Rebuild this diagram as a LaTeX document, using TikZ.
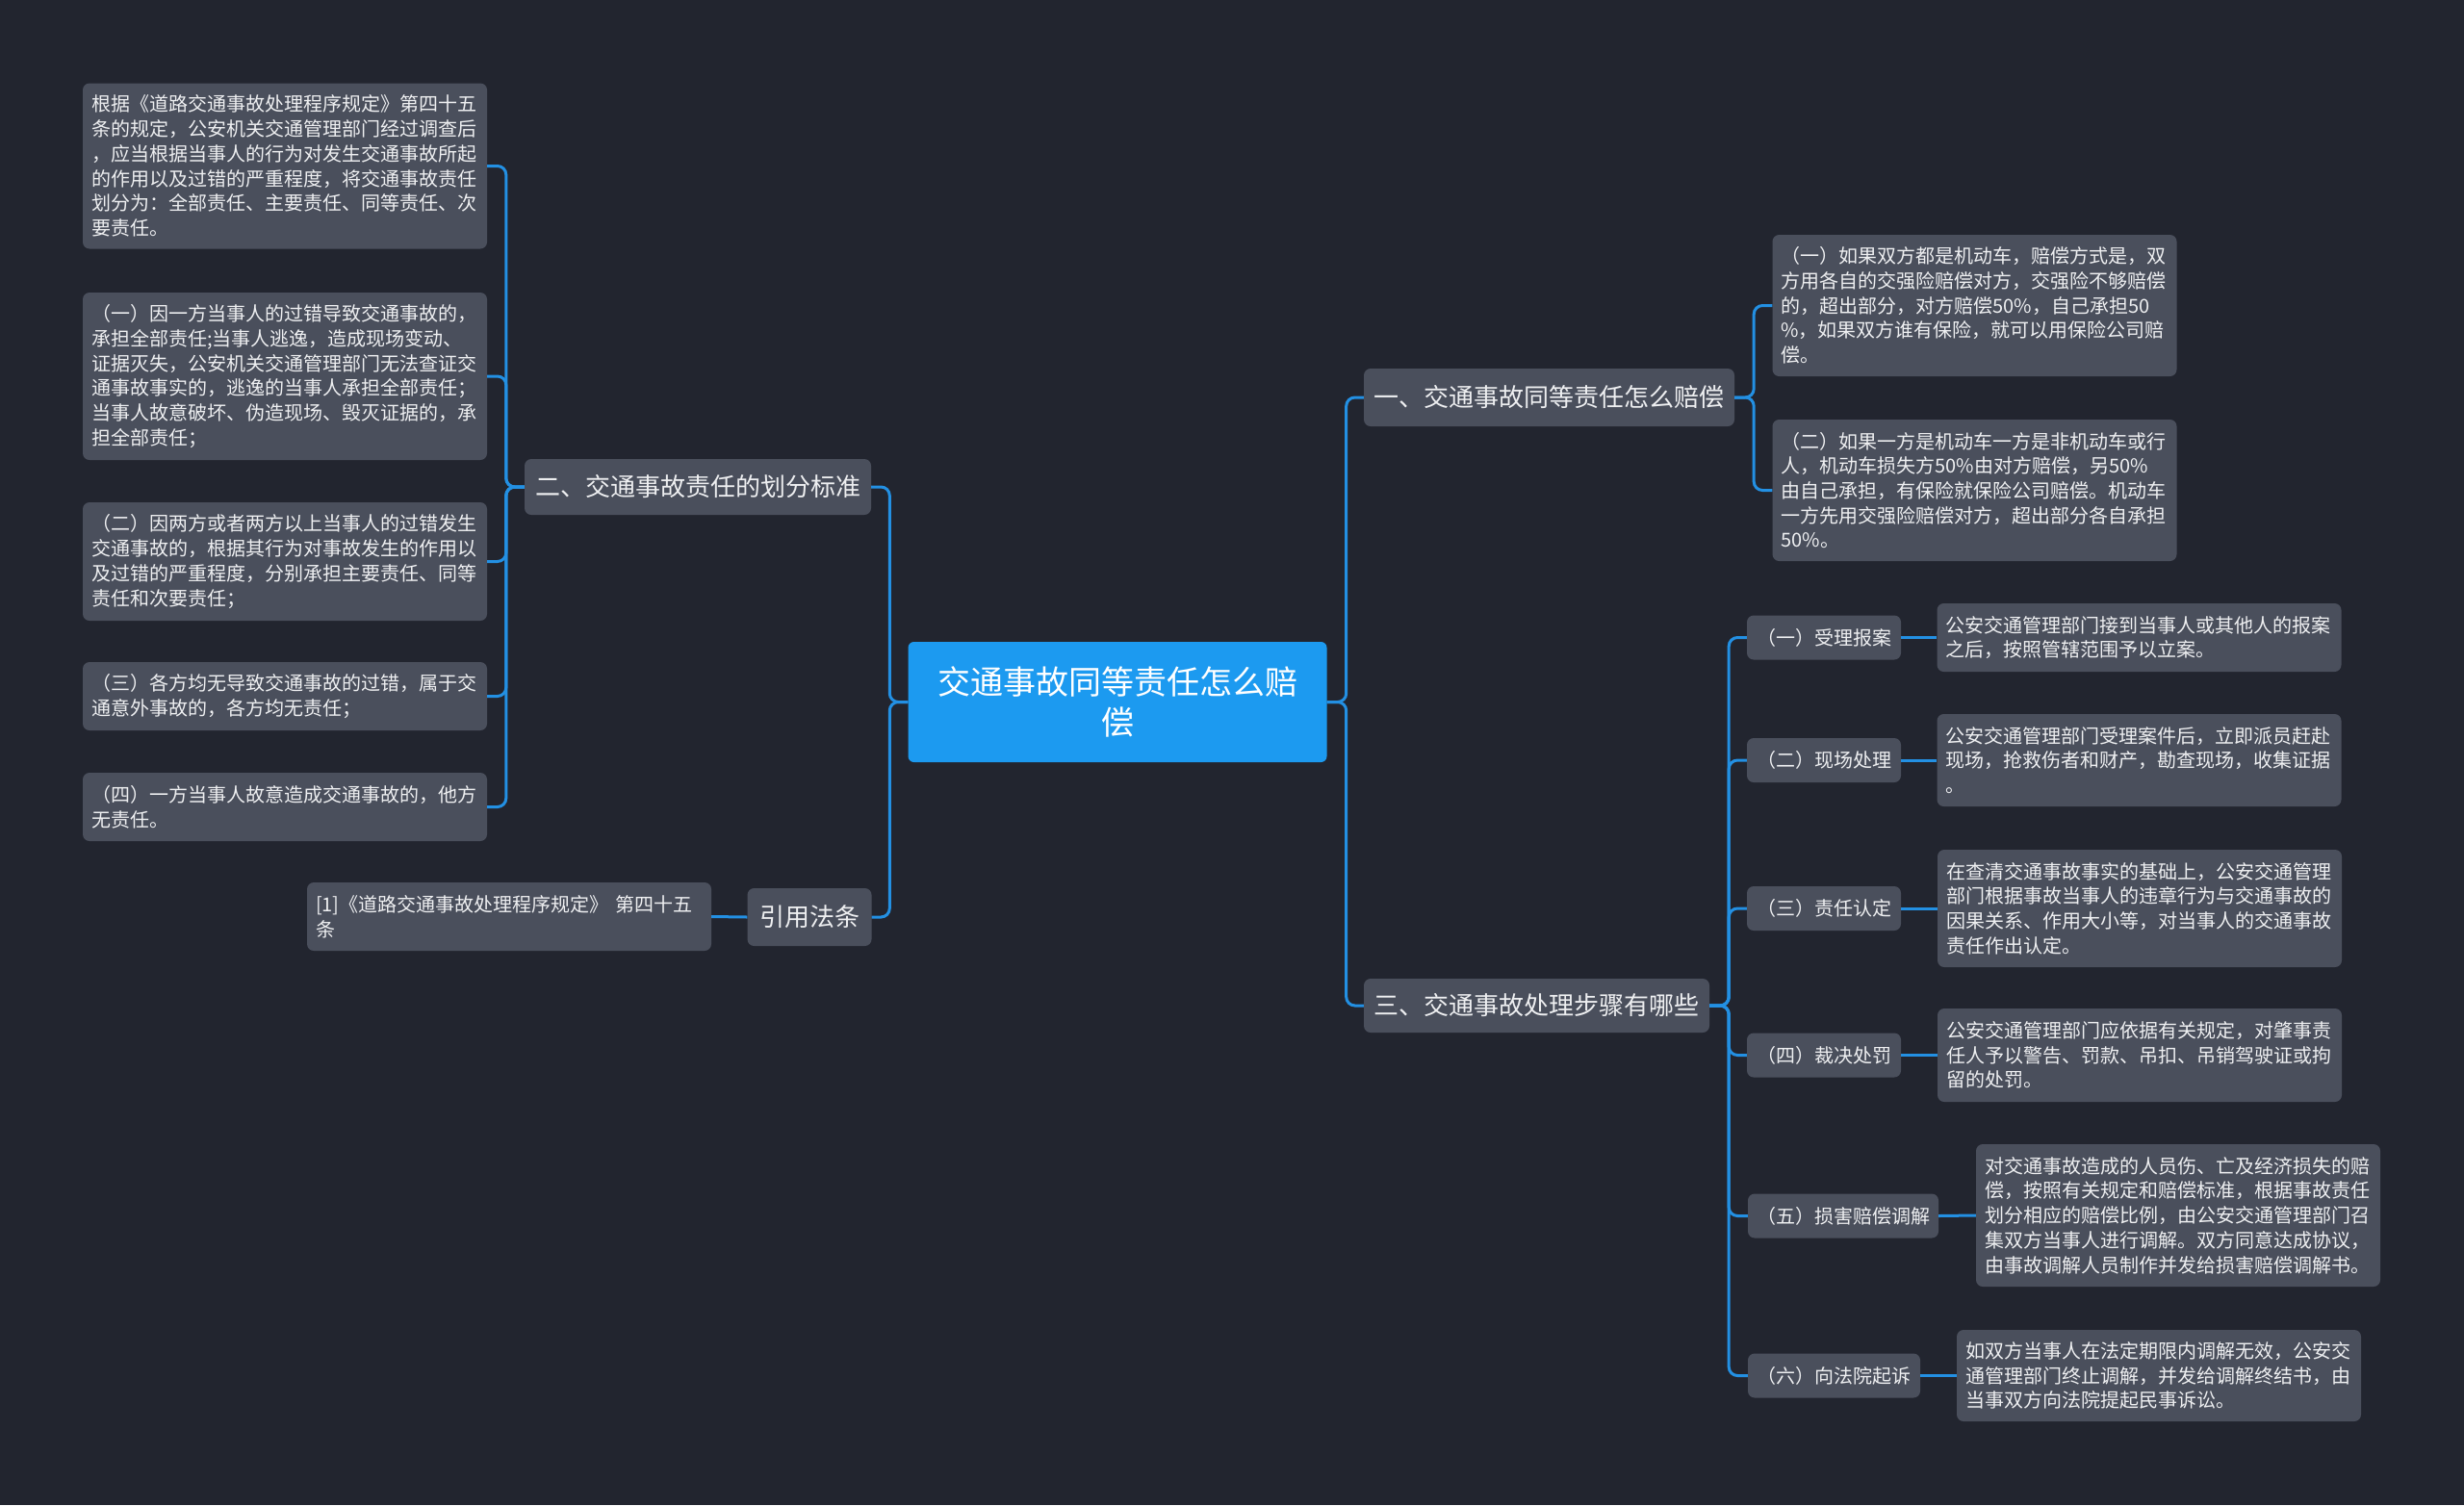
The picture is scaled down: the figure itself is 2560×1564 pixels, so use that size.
\documentclass[tikz,border=0pt]{standalone}
\usepackage{fontspec}
\setmainfont{Noto Sans CJK SC}
\usetikzlibrary{calc}
\definecolor{bg}{HTML}{22252F}
\definecolor{nodebg}{HTML}{4A4F5C}
\definecolor{rootbg}{HTML}{1C9AF0}
\definecolor{linec}{HTML}{2390E3}
\definecolor{txt}{HTML}{EEEFF1}
\begin{document}
\begin{tikzpicture}[x=1pt,y=-1pt,
  box/.style={fill=nodebg, rounded corners=7pt, text=txt, inner ysep=0pt, anchor=center},
  leaf/.style={box, inner xsep=9pt, font=\fontsize{20}{25.7}\selectfont, align=left},
  mid/.style={box, inner xsep=4pt, font=\fontsize{26}{32}\selectfont, align=center},
  stepnode/.style={box, inner xsep=4pt, font=\fontsize{20}{25}\selectfont, align=center},
  rootnode/.style={fill=rootbg, rounded corners=6pt, text=white, inner sep=0pt, font=\fontsize{34}{42}\selectfont, align=center},
  conn/.style={draw=linec, line width=3pt, rounded corners=9pt},
]
\fill[bg] (0,0) rectangle (2560,1564);
\useasboundingbox (0,0) rectangle (2560,1564);

% root
\node[rootnode, minimum width=435pt, minimum height=125pt] (root) at (1161,729.5) {交通事故同等责任怎么赔\\偿};

% level 1
\node[mid, minimum width=360pt, minimum height=58pt] (n2) at (725,506) {二、交通事故责任的划分标准};
\node[mid, minimum width=129pt, minimum height=60pt] (cite) at (841,953) {引用法条};
\node[mid, minimum width=385pt, minimum height=60pt] (n1) at (1609.5,413) {一、交通事故同等责任怎么赔偿};
\node[mid, minimum width=359pt, minimum height=56pt] (n3) at (1596.5,1045) {三、交通事故处理步骤有哪些};

% left leaves
\node[leaf, text width=402pt, minimum height=172pt] (L1) at (296,172.5) {根据《道路交通事故处理程序规定》第四十五\\条的规定，公安机关交通管理部门经过调查后\\，应当根据当事人的行为对发生交通事故所起\\的作用以及过错的严重程度，将交通事故责任\\划分为：全部责任、主要责任、同等责任、次\\要责任。};
\node[leaf, text width=402pt, minimum height=174pt] (L2) at (296,391) {（一）因一方当事人的过错导致交通事故的，\\承担全部责任;当事人逃逸，造成现场变动、\\证据灭失，公安机关交通管理部门无法查证交\\通事故事实的，逃逸的当事人承担全部责任；\\当事人故意破坏、伪造现场、毁灭证据的，承\\担全部责任；};
\node[leaf, text width=402pt, minimum height=123pt] (L3) at (296,583.5) {（二）因两方或者两方以上当事人的过错发生\\交通事故的，根据其行为对事故发生的作用以\\及过错的严重程度，分别承担主要责任、同等\\责任和次要责任；};
\node[leaf, text width=402pt, minimum height=71pt] (L4) at (296,723.5) {（三）各方均无导致交通事故的过错，属于交\\通意外事故的，各方均无责任；};
\node[leaf, text width=402pt, minimum height=71pt] (L5) at (296,838.5) {（四）一方当事人故意造成交通事故的，他方\\无责任。};
\node[leaf, text width=402pt, minimum height=71pt] (ref) at (529,952.5) {[1]《道路交通事故处理程序规定》 第四十五\\条};

% right leaves of 一
\node[leaf, text width=402pt, minimum height=147pt] (r1) at (2051.5,317.5) {（一）如果双方都是机动车，赔偿方式是，双\\方用各自的交强险赔偿对方，交强险不够赔偿\\的，超出部分，对方赔偿50\%，自己承担50\\\%，如果双方谁有保险，就可以用保险公司赔\\偿。};
\node[leaf, text width=402pt, minimum height=147pt] (r2) at (2051.5,509.5) {（二）如果一方是机动车一方是非机动车或行\\人，机动车损失方50\%由对方赔偿，另50\%\\由自己承担，有保险就保险公司赔偿。机动车\\一方先用交强险赔偿对方，超出部分各自承担\\50\%。};

% steps
\node[stepnode, minimum width=160pt, minimum height=46pt] (s1) at (1895,662.5) {（一）受理报案};
\node[stepnode, minimum width=160pt, minimum height=46pt] (s2) at (1895,790) {（二）现场处理};
\node[stepnode, minimum width=160pt, minimum height=46pt] (s3) at (1895,944) {（三）责任认定};
\node[stepnode, minimum width=160pt, minimum height=46pt] (s4) at (1895,1096.5) {（四）裁决处罚};
\node[stepnode, minimum width=198pt, minimum height=46pt] (s5) at (1915,1263.5) {（五）损害赔偿调解};
\node[stepnode, minimum width=179pt, minimum height=46pt] (s6) at (1905.5,1429.5) {（六）向法院起诉};

\node[leaf, text width=402pt, minimum height=71pt] (t1) at (2222.5,662.5) {公安交通管理部门接到当事人或其他人的报案\\之后，按照管辖范围予以立案。};
\node[leaf, text width=402pt, minimum height=96pt] (t2) at (2222.5,790) {公安交通管理部门受理案件后，立即派员赶赴\\现场，抢救伤者和财产，勘查现场，收集证据\\。};
\node[leaf, text width=402pt, minimum height=122pt] (t3) at (2223,944) {在查清交通事故事实的基础上，公安交通管理\\部门根据事故当事人的违章行为与交通事故的\\因果关系、作用大小等，对当事人的交通事故\\责任作出认定。};
\node[leaf, text width=402pt, minimum height=97pt] (t4) at (2223,1096.5) {公安交通管理部门应依据有关规定，对肇事责\\任人予以警告、罚款、吊扣、吊销驾驶证或拘\\留的处罚。};
\node[leaf, text width=402pt, minimum height=148pt] (t5) at (2263,1263) {对交通事故造成的人员伤、亡及经济损失的赔\\偿，按照有关规定和赔偿标准，根据事故责任\\划分相应的赔偿比例，由公安交通管理部门召\\集双方当事人进行调解。双方同意达成协议，\\由事故调解人员制作并发给损害赔偿调解书。};
\node[leaf, text width=402pt, minimum height=95pt] (t6) at (2243,1429.5) {如双方当事人在法定期限内调解无效，公安交\\通管理部门终止调解，并发给调解终结书，由\\当事双方向法院提起民事诉讼。};

% connectors
\draw[conn] (root.east) -- ++(20,0) |- (n1.west);
\draw[conn] (root.east) -- ++(20,0) |- (n3.west);
\draw[conn] (root.west) -- ++(-19,0) |- (n2.east);
\draw[conn] (root.west) -- ++(-19,0) |- (cite.east);
\foreach \c in {L1,L2,L3,L4,L5}{
  \draw[conn] (n2.west) -- ++(-19,0) |- (\c.east);
}
\draw[conn] (cite.west) -- (ref.east);
\foreach \c in {r1,r2}{
  \draw[conn] (n1.east) -- ++(20,0) |- (\c.west);
}
\foreach \c in {s1,s2,s3,s4,s5,s6}{
  \draw[conn] (n3.east) -- ++(20,0) |- (\c.west);
}
\draw[conn] (s1.east) -- (t1.west);
\draw[conn] (s2.east) -- (t2.west);
\draw[conn] (s3.east) -- (t3.west);
\draw[conn] (s4.east) -- (t4.west);
\draw[conn] (s5.east) -- (t5.west);
\draw[conn] (s6.east) -- (t6.west);
\end{tikzpicture}
\end{document}
